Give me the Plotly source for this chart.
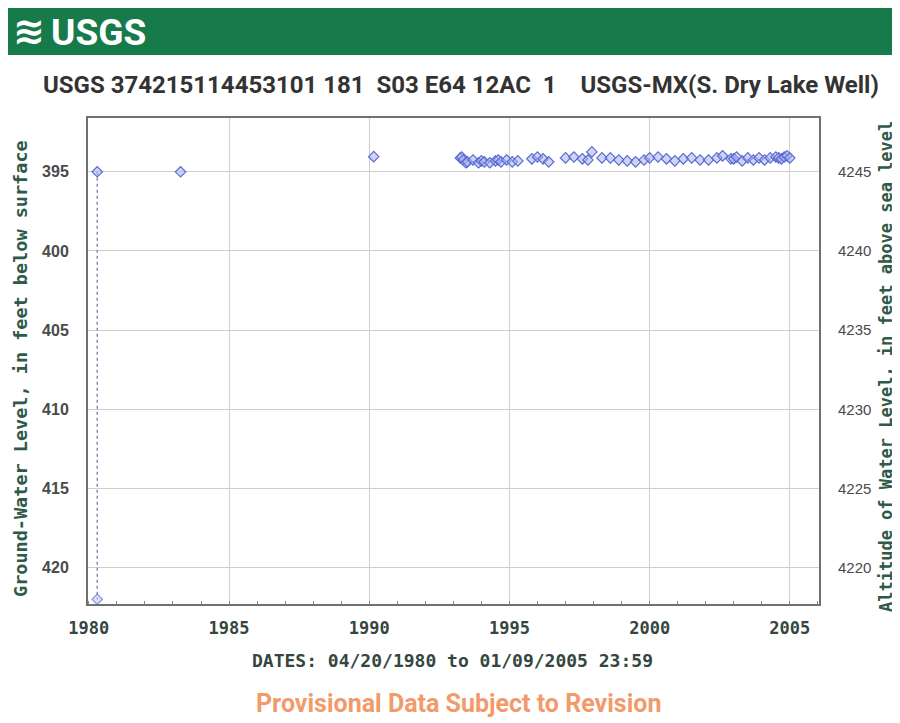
import plotly.graph_objects as go

# ---- data (decimal years, depth below surface in ft) ----
early_years = [1980.30, 1983.27, 1990.16]
early_depth = [395.0, 395.0, 394.04]

cluster_years = [1993.25, 1993.30, 1993.35, 1993.45, 1993.50, 1993.70, 1993.90, 1994.00,
                 1994.10, 1994.30, 1994.50, 1994.60, 1994.70, 1994.90, 1995.10, 1995.30,
                 1995.80, 1996.00, 1996.20, 1996.40, 1997.00, 1997.30, 1997.60, 1997.80,
                 1997.94, 1998.30, 1998.60, 1998.90, 1999.20, 1999.50, 1999.80, 2000.00,
                 2000.30, 2000.60, 2000.90, 2001.20, 2001.50, 2001.80, 2002.10, 2002.40,
                 2002.60, 2002.90, 2003.00, 2003.10, 2003.30, 2003.50, 2003.70, 2003.90,
                 2004.10, 2004.30, 2004.50, 2004.60, 2004.70, 2004.80, 2004.90, 2005.00]
cluster_depth = [394.12, 394.06, 394.25, 394.43, 394.37, 394.25, 394.43, 394.31,
                 394.37, 394.43, 394.31, 394.25, 394.37, 394.25, 394.37, 394.31,
                 394.18, 394.06, 394.18, 394.37, 394.12, 394.06, 394.18, 394.25,
                 393.74, 394.12, 394.12, 394.25, 394.31, 394.37, 394.25, 394.12,
                 394.06, 394.18, 394.31, 394.18, 394.12, 394.25, 394.25, 394.12,
                 393.99, 394.18, 394.18, 394.06, 394.31, 394.12, 394.25, 394.12,
                 394.25, 394.12, 394.06, 394.12, 394.18, 394.06, 393.99, 394.12]

well_line_years = [1980.30, 1980.30]
well_line_depth = [395.0, 422.0]

land_surface_alt = 4640.0
x_ticks = [1980, 1985, 1990, 1995, 2000, 2005]
y_ticks = [395, 400, 405, 410, 415, 420]
y2_ticks = [4245, 4240, 4235, 4230, 4225, 4220]

title_text = "USGS 374215114453101 181  S03 E64 12AC  1    USGS-MX(S. Dry Lake Well)"
x_title = "DATES: 04/20/1980 to 01/09/2005 23:59"
y_title = "Ground-Water Level, in feet below surface"
y2_title = "Altitude of Water Level, in feet above sea level"

all_years = early_years + cluster_years
all_depth = early_depth + cluster_depth

marker_style = dict(symbol="diamond", size=8, color="rgba(165,175,240,0.55)",
                    line=dict(color="#5a6bd0", width=1.2))

fig = go.Figure()
fig.add_trace(go.Scatter(x=well_line_years, y=well_line_depth, mode="lines+markers",
                         line=dict(color="#8890b0", width=1.5, dash="dot"),
                         marker=dict(symbol="diamond", size=[0, 8],
                                     color="rgba(165,175,240,0.55)",
                                     line=dict(color="#5a6bd0", width=1.2)),
                         showlegend=False, hoverinfo="skip"))
fig.add_trace(go.Scatter(x=all_years, y=all_depth, mode="markers",
                         marker=marker_style, showlegend=False))
fig.add_trace(go.Scatter(x=all_years, y=[land_surface_alt - d for d in all_depth],
                         yaxis="y2", mode="markers", marker=dict(opacity=0),
                         showlegend=False, hoverinfo="skip"))

mono_bold = dict(family="DejaVu Sans Mono", size=17, color="#34473f", weight="bold")
W, H = 731.0, 486.0  # plot area size in px
L, T = 80.0, 110.0   # plot area offset inside figure


def px(xp):
    return (xp - 8 - L) / W


def py(yp):
    return 1 - (yp - 8 - T) / H


fig.update_layout(
    width=900, height=723,
    paper_bgcolor="white", plot_bgcolor="white",
    margin=dict(l=80, r=89, t=110, b=127),
    xaxis=dict(range=[1979.97, 2006.04], tickvals=x_ticks, ticktext=[str(v) for v in x_ticks],
               showgrid=True, gridcolor="#cfcfcf", gridwidth=1.2, zeroline=False,
               showline=True, linecolor="#707070", linewidth=2, mirror=True,
               ticks="", tickfont=mono_bold, ticklabelstandoff=8,
               minor=dict(dtick=1, tick0=1980, ticks="inside", ticklen=3,
                          tickcolor="#888888", showgrid=False)),
    yaxis=dict(range=[422.3, 391.6], tickvals=y_ticks, ticktext=[str(v) for v in y_ticks],
               showgrid=True, gridcolor="#cfcfcf", gridwidth=1.2, zeroline=False,
               showline=True, linecolor="#707070", linewidth=2, mirror=True,
               ticks="", ticklabelstandoff=14,
               tickfont=dict(family="Liberation Sans", size=16, color="#4a4a4a",
                             weight="bold")),
    yaxis2=dict(range=[land_surface_alt - 422.3, land_surface_alt - 391.6], overlaying="y",
                side="right", tickvals=y2_ticks, ticktext=[str(v) for v in y2_ticks],
                showgrid=False, zeroline=False, ticks="", ticklabelstandoff=18,
                tickfont=dict(family="Liberation Sans", size=15, color="#4a4a4a")),
    shapes=[dict(type="rect", xref="paper", yref="paper", x0=px(7), x1=px(902),
                 y0=py(55), y1=py(4), fillcolor="#177a4b", line=dict(width=0),
                 layer="below")],
    annotations=[
        dict(text="<b>≋</b>", xref="paper", yref="paper", x=px(29), y=py(31),
             xanchor="center", yanchor="middle", showarrow=False,
             font=dict(family="DejaVu Sans", size=38, color="white")),
        dict(text="<b>USGS</b>", xref="paper", yref="paper", x=px(49), y=py(32),
             xanchor="left", yanchor="middle", showarrow=False,
             font=dict(family="Roboto", size=37, color="white")),
        dict(text="<b>" + title_text + "</b>", xref="paper", yref="paper",
             x=px(461), y=py(85), xanchor="center", yanchor="middle", showarrow=False,
             font=dict(family="Roboto", size=24, color="#333333")),
        dict(text=x_title, xref="paper", yref="paper", x=px(452), y=py(660),
             xanchor="center", yanchor="middle", showarrow=False,
             font=dict(family="DejaVu Sans Mono", size=18, color="#34473f", weight="bold")),
        dict(text=y_title, xref="paper", yref="paper", x=px(20), y=py(369),
             xanchor="center", yanchor="middle", showarrow=False, textangle=-90,
             font=dict(family="DejaVu Sans Mono", size=18.5, color="#2f5a48",
                       weight="bold")),
        dict(text=y2_title, xref="paper", yref="paper", x=px(886), y=py(366),
             xanchor="center", yanchor="middle", showarrow=False, textangle=-90,
             font=dict(family="DejaVu Sans Mono", size=17, color="#2f5a48", weight="bold")),
        dict(text="<b>Provisional Data Subject to Revision</b>", xref="paper", yref="paper",
             x=px(458), y=py(703), xanchor="center", yanchor="middle", showarrow=False,
             font=dict(family="Roboto", size=25, color="#f29a6a")),
    ],
)

fig.write_html("out.html")
